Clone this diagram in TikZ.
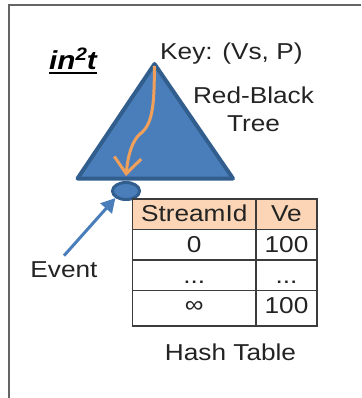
\documentclass[tikz,border=0pt]{standalone}
\usepackage{fontspec}
\setmainfont{Liberation Sans}[FakeStretch=1.14]
\usetikzlibrary{arrows.meta,shapes.geometric}
\definecolor{trifill}{RGB}{74,126,187}
\definecolor{triedge}{RGB}{50,94,142}
\definecolor{orng}{RGB}{240,160,90}
\definecolor{peach}{RGB}{251,213,181}
\definecolor{framegray}{RGB}{100,100,100}
\definecolor{gridgray}{RGB}{60,60,60}
\definecolor{txtgray}{RGB}{35,35,35}
\begin{document}
\begin{tikzpicture}[x=1pt,y=-1pt,
  txt/.style={inner sep=0pt, font=\fontsize{23}{28.4}\selectfont, text=txtgray},
  gridline/.style={draw=gridgray, line width=1.5pt}]
\useasboundingbox (0,0) rectangle (361,398);
% frame
\draw[framegray, line width=2pt] (8.5,398) -- (8.5,5) -- (361,5);
% triangle (red-black tree)
\coordinate (apex) at (154.5,64);
\coordinate (bl) at (77.5,178.5);
\coordinate (br) at (233,178.5);
\draw[fill=trifill, draw=triedge, line width=4pt, line join=round] (apex) -- (bl) -- (br) -- cycle;
% event ellipse
\node[ellipse, draw=triedge, fill=trifill, line width=3pt, minimum width=27pt, minimum height=17pt, inner sep=0pt] (ev) at (126,191) {};
% orange search path
\draw[orng, line width=3pt, -{Straight Barb[length=16pt,width=27pt]}]
  ([yshift=-2pt]apex) .. controls (154,100) and (154,124) .. (140,134)
  .. controls (132,141) and (128,155) .. ([yshift=5pt]ev.north);
% labels
\node[anchor=base west, inner sep=0pt, font=\bfseries\itshape\fontsize{26}{30}\selectfont, text=black] (logo) at (49,70) {in\raisebox{0.38em}{\fontsize{18}{20}\selectfont 2}t};
\draw[black, line width=2pt] ([yshift=-3.3pt]logo.base west) -- ([yshift=-3.3pt]logo.base east);
\node[txt, anchor=base west] (key) at (160,59.3) {Key: (Vs, P)};
\node[txt, anchor=base, align=center] (rb) at (253.5,131.7) {Red-Black\\Tree};
\node[txt, anchor=base] (evt) at (64,277.7) {Event};
\draw[trifill, line width=3pt, -{Triangle[length=14pt,width=15pt]}] ([yshift=6pt]evt.north) -- (ev.south west);
% hash table
\fill[peach] (132.5,199) rectangle (317,229.5);
\draw[gridline] (132.5,199) rectangle (317,326);
\draw[gridline] (256,199) -- (256,326);
\draw[gridline] (132.5,229.5) -- (317,229.5);
\draw[gridline] (132.5,260) -- (317,260);
\draw[gridline] (132.5,290.5) -- (317,290.5);
\node[txt, anchor=base] (h1) at (194.25,221.7) {StreamId};
\node[txt, anchor=base] (h2) at (286.5,221.7) {Ve};
\node[txt, anchor=base] (a1) at (194.25,252) {0};
\node[txt, anchor=base] (a2) at (286.5,252) {100};
\node[txt, anchor=base] (b1) at (194.25,283) {...};
\node[txt, anchor=base] (b2) at (286.5,283) {...};
\node[txt, anchor=base] (c1) at (194.25,312) {∞};
\node[txt, anchor=base] (c2) at (286.5,313.3) {100};
\node[txt, anchor=base] (ht) at (230.5,360) {Hash Table};
\end{tikzpicture}
\end{document}
